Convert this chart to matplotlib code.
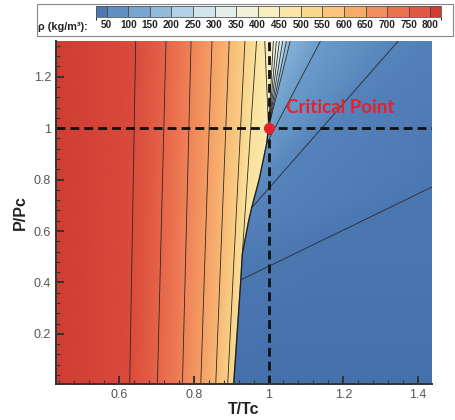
import numpy as np
import matplotlib
matplotlib.use("Agg")
import matplotlib.pyplot as plt
import matplotlib.tri as mtri
from matplotlib.colors import LinearSegmentedColormap, ListedColormap, BoundaryNorm, Normalize
from matplotlib.cm import ScalarMappable
from matplotlib.ticker import AutoMinorLocator, FuncFormatter
from matplotlib.patches import Rectangle

plt.rcParams['font.family'] = ['Liberation Sans', 'DejaVu Sans']

# contour levels shown on the legend (kg/m3)
levels = [50, 100, 150, 200, 250, 300, 350, 400, 450, 500, 550, 600, 650, 700, 750, 800]

# liquid side: near-vertical iso-density lines (T/Tc at P/Pc bottom and top)
liq_levels = [800, 750, 700, 650, 600, 550]
liq_T_bottom = [0.629, 0.703, 0.770, 0.819, 0.859, 0.891]
liq_T_top = [0.645, 0.726, 0.793, 0.849, 0.895, 0.937]
rho_left_edge = 835

# saturation curve up to the critical point, with liquid / vapour densities
sat_T = [0.907, 0.926, 0.930, 0.947, 0.955, 0.975, 0.988, 0.995, 1.000]
sat_P = [0.005, 0.410, 0.510, 0.640, 0.690, 0.800, 0.890, 0.940, 1.000]
sat_rho_liq = [535, 505, 500, 488, 485, 475, 465, 458, 450]
sat_rho_vap = [2, 20, 28, 45, 50, 68, 85, 100, 150]

# lines leaving the top edge near and right of the critical point
top_levels = [500, 450, 400, 350, 300, 250, 200, 150, 100, 50]
top_T = [0.968, 0.990, 1.013, 1.021, 1.029, 1.038, 1.048, 1.058, 1.139, 1.347]

# right edge (T/Tc max): P/Pc and density
right_P = [0.005, 0.771, 1.339]
right_rho = [4, 20, 40]

Tmin, Tmax = 0.432, 1.437
Pmin, Pmax = 0.005, 1.339

# ---- build triangulated field ----
xs, ys, zs, tris = [], [], [], []


def node(t, p, v):
    xs.append(t)
    ys.append(p)
    zs.append(v)
    return len(xs) - 1


# liquid columns
cols = [(Tmin, Tmin, rho_left_edge)] + list(zip(liq_T_bottom, liq_T_top, liq_levels))
bot = [node(tb, Pmin, v) for tb, tt, v in cols]
top = [node(tt, Pmax, v) for tb, tt, v in cols]
for i in range(len(cols) - 1):
    tris.append([bot[i], bot[i + 1], top[i + 1]])
    tris.append([bot[i], top[i + 1], top[i]])
b550, t550 = bot[-1], top[-1]

tnode = {lv: node(t, Pmax, lv) for lv, t in zip(top_levels, top_T)}

sl = [node(t, p, v) for t, p, v in zip(sat_T, sat_P, sat_rho_liq)]
tris += [[b550, sl[0], sl[1]], [b550, sl[1], t550], [sl[1], sl[2], t550],
         [sl[2], tnode[500], t550]]
for k in range(2, 8):
    tris.append([sl[k], sl[k + 1], tnode[500]])
tris.append([sl[8], tnode[450], tnode[500]])

# vapour / supercritical side
sg = [node(t, p, v) for t, p, v in zip(sat_T, sat_P, sat_rho_vap)]
BR = node(Tmax, right_P[0], right_rho[0])
AR = node(Tmax, right_P[1], right_rho[1])
TR = node(Tmax, right_P[2], right_rho[2])
Bt, Ct = tnode[50], tnode[100]
tris += [[sg[0], BR, AR], [sg[0], AR, sg[1]],
         [sg[1], AR, sg[2]], [sg[2], AR, sg[3]], [sg[3], AR, TR], [sg[3], TR, Bt], [sg[3], Bt, sg[4]],
         [sg[4], Bt, sg[5]], [sg[5], Bt, sg[6]], [sg[6], Bt, Ct], [sg[6], Ct, sg[7]],
         [sg[7], Ct, tnode[150]], [sg[7], tnode[150], sg[8]]]
# fan of lines out of the critical point
for lv in [450, 400, 350, 300, 250, 200]:
    o = node(sat_T[-1], sat_P[-1], lv)
    tris.append([o, tnode[lv], tnode[lv - 50]])

tri = mtri.Triangulation(np.array(xs), np.array(ys), np.array(tris))
z = np.array(zs, dtype=float)

cstops = [(0, (70, 112, 172)), (50, (86, 132, 188)), (100, (108, 156, 202)),
          (150, (133, 178, 214)), (200, (163, 200, 226)), (250, (197, 222, 235)),
          (300, (224, 237, 240)), (350, (238, 242, 228)), (400, (245, 243, 205)),
          (450, (250, 238, 180)), (500, (250, 225, 155)), (550, (250, 208, 135)),
          (600, (248, 185, 115)), (650, (245, 158, 100)), (700, (240, 130, 88)),
          (750, (230, 100, 72)), (800, (218, 75, 60)), (850, (205, 55, 48))]
cmap = LinearSegmentedColormap.from_list(
    'tp', [(v / 850, tuple(c / 255 for c in col)) for v, col in cstops])
norm = Normalize(0, 850)

fig = plt.figure(figsize=(4.55, 4.2), dpi=100)
ax = fig.add_axes([56 / 455, 1 - 384 / 420, 376 / 455, 343 / 420])

ax.tripcolor(tri, z, cmap=cmap, norm=norm, shading='gouraud')
ax.tricontour(tri, z, levels=[20] + levels, colors='#2a2a2a', linewidths=0.6)
ax.plot(sat_T, sat_P, color='#222222', lw=1.0)

ax.axhline(1.0, color='#111111', lw=2, linestyle=(0, (3.2, 1.8)))
ax.axvline(1.0, color='#111111', lw=2, linestyle=(0, (3.2, 1.8)))
ax.plot([1.0], [1.0], 'o', color='#e8202a', ms=7, zorder=5)
ax.text(1.046, 1.08, 'Critical Point', color='#e8202a', fontweight='bold',
        fontsize=13.5, va='center', family=['Lato', 'DejaVu Sans'])

ax.set_xlim(Tmin, Tmax)
ax.set_ylim(Pmin, Pmax)
ax.set_xticks([0.6, 0.8, 1.0, 1.2, 1.4])
ax.set_yticks([0.2, 0.4, 0.6, 0.8, 1.0, 1.2])
fmt = FuncFormatter(lambda v, _: f"{v:g}")
ax.xaxis.set_major_formatter(fmt)
ax.yaxis.set_major_formatter(fmt)
ax.xaxis.set_minor_locator(AutoMinorLocator(5))
ax.yaxis.set_minor_locator(AutoMinorLocator(5))
ax.tick_params(which='both', direction='in', colors='#333333', labelcolor='#555555')
ax.tick_params(which='major', length=6, width=1.4, labelsize=9)
ax.tick_params(which='minor', length=3, width=0.8)
for s in ['top', 'right']:
    ax.spines[s].set_visible(False)
for s in ['left', 'bottom']:
    ax.spines[s].set_color('#333333')
    ax.spines[s].set_linewidth(1.4)
ax.set_xlabel('T/Tc', fontsize=11.5, fontweight='bold', color='#222222', labelpad=1)
ax.set_ylabel('P/Pc', fontsize=11.5, fontweight='bold', color='#222222', labelpad=4)

# legend bar at the top
bounds = [25] + levels + [825]
mids = [20] + [(a + b) / 2 for a, b in zip(levels[:-1], levels[1:])] + [840]
cb_cmap = ListedColormap([cmap(norm(m)) for m in mids])
cax = fig.add_axes([96 / 455, 1 - 17 / 420, 345 / 455, 11 / 420])
sm = ScalarMappable(norm=BoundaryNorm(bounds, len(bounds) - 1), cmap=cb_cmap)
cb = fig.colorbar(sm, cax=cax, orientation='horizontal', ticks=levels,
                  spacing='proportional', drawedges=True)
cb.outline.set_edgecolor('#555555')
cb.outline.set_linewidth(0.6)
cb.dividers.set_color('#444444')
cb.dividers.set_linewidth(0.6)
cax.tick_params(length=0, labelsize=7.2, pad=2.5, labelcolor='#222222')
for lab in cax.get_xticklabels():
    lab.set_fontweight('bold')
fig.text(38 / 455, 1 - 27 / 420, 'ρ (kg/m³):', fontsize=7.8, fontweight='bold',
         va='center', color='#222222')
fig.add_artist(Rectangle((37 / 455, 1 - 36 / 420), 416 / 455, 32 / 420,
                         transform=fig.transFigure, fill=False, ec='#888888', lw=0.8))

fig.savefig('out.png', dpi=100)
